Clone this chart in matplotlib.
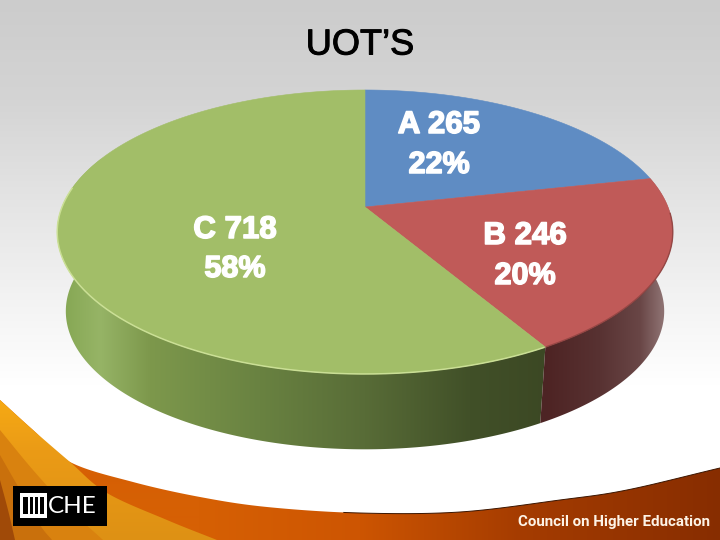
import numpy as np
import matplotlib
matplotlib.use("Agg")
import matplotlib.pyplot as plt
from matplotlib.patches import Polygon, Rectangle
import matplotlib.patheffects as pe

categories = ["A", "B", "C"]
values = [265, 246, 718]
title = "UOT\u2019S"
footer = "Council on Higher Education"

face_colors = ["#5f8cc3", "#c05a58", "#a2be68"]

fig = plt.figure(figsize=(7.2, 5.4), dpi=100)
ax = fig.add_axes([0, 0, 1, 1])
ax.set_xlim(0, 720)
ax.set_ylim(540, 0)
ax.axis("off")


def gradient(stops, horizontal, zorder, clip=None):
    pos = [s[0] for s in stops]
    cols = np.array([s[1] for s in stops], dtype=float) / 255
    n = 720 if horizontal else 540
    t = np.arange(n) + 0.5
    line = np.stack([np.interp(t, pos, cols[:, i]) for i in range(3)], axis=-1)
    img = line[None, :, :] if horizontal else line[:, None, :]
    im = ax.imshow(img, extent=(0, 720, 540, 0), aspect="auto", zorder=zorder,
                   interpolation="bilinear")
    if clip is not None:
        p = Polygon(clip, closed=True, transform=ax.transData, fc="none", ec="none")
        ax.add_patch(p)
        im.set_clip_path(p)
    ax.set_xlim(0, 720)
    ax.set_ylim(540, 0)
    return im


def smooth(points, n=24):
    """Catmull-Rom curve through the given outline points."""
    p = np.array(points, dtype=float)
    p = np.vstack([2 * p[0] - p[1], p, 2 * p[-1] - p[-2]])
    out = []
    for i in range(1, len(p) - 2):
        t = np.linspace(0, 1, n, endpoint=False)[:, None]
        out.append(0.5 * (2 * p[i] + (p[i + 1] - p[i - 1]) * t
                          + (2 * p[i - 1] - 5 * p[i] + 4 * p[i + 1] - p[i + 2]) * t ** 2
                          + (3 * p[i] - p[i - 1] - 3 * p[i + 1] + p[i + 2]) * t ** 3))
    out.append(p[-2][None, :])
    return np.vstack(out)


# background
gradient([(0, (204, 204, 204)), (100, (212, 212, 212)), (200, (228, 228, 228)),
          (300, (243, 243, 243)), (385, (255, 255, 255)), (540, (255, 255, 255))], False, 0)

# footer swoosh
edge = smooth([(0, 400), (33, 430), (70, 462), (133, 482), (200, 497), (267, 507), (360, 513),
               (460, 512), (560, 500), (627, 490), (720, 468)])
band = np.vstack([edge, [(720, 540), (0, 540)]])
line_part = edge[edge[:, 0] > 340]
ax.plot(line_part[:, 0], line_part[:, 1], color="#3a1500", lw=0.7, zorder=2.5)
gradient([(200, (214, 96, 4)), (360, (205, 85, 2)), (520, (165, 60, 0)), (720, (135, 45, 0))], True, 2, band)
split = smooth([(0, 400), (33, 430), (70, 462), (107, 493), (167, 520), (217, 540)])
gradient([(400, (246, 170, 20)), (450, (235, 155, 22)), (540, (222, 145, 20))], False, 3,
         np.vstack([split, [(0, 540)]]))
for pts, col, z in [([(0, 430), (33, 470), (67, 507), (103, 540)], "#d9820f", 3.1),
                    ([(0, 455), (20, 490), (40, 525), (52, 540)], "#c9700c", 3.2),
                    ([(0, 480), (8, 510), (15, 540)], "#a04a08", 3.3)]:
    ax.add_patch(Polygon(np.vstack([smooth(pts), [(0, 540)]]), fc=col, ec="none", zorder=z))

# pie geometry: perspective projection of a circle
CX, CY, AX, BY, K = 365, 207, 303, 137.6, 0.176
DEPTH, SHRINK = 80, 0.972


def project(theta_deg, scale=1.0, dy=0.0):
    th = np.radians(theta_deg)
    u, v = np.sin(th), np.cos(th)
    w = 1 + K * v
    return np.column_stack([CX + scale * AX * u / w, CY + dy - scale * BY * v / w])


total = sum(values)
bounds = np.concatenate([[0], np.cumsum(values) / total * 360])
(a_end, b_end, c_end) = bounds[1:]


def side(t0, t1):
    th = np.linspace(t0, t1, 200)
    return np.vstack([project(th), project(th[::-1], SHRINK, DEPTH)])


gradient([(0, (140, 172, 88)), (66, (135, 168, 85)), (100, (150, 180, 102)), (150, (125, 152, 76)),
          (260, (105, 130, 65)), (365, (88, 108, 55)), (470, (65, 80, 40)), (548, (60, 72, 36)),
          (720, (60, 72, 36))], True, 4, side(b_end, 292))
gradient([(0, (76, 36, 36)), (548, (78, 36, 36)), (600, (88, 50, 50)), (640, (105, 70, 70)),
          (662, (140, 112, 112)), (720, (150, 125, 125))], True, 4, side(a_end, b_end))

# top faces
for i, color in enumerate(face_colors):
    th = np.linspace(bounds[i], bounds[i + 1], 240)
    pts = np.vstack([[CX, CY], project(th)])
    ax.add_patch(Polygon(pts, closed=True, fc=color, ec=color, lw=0.4, zorder=5))

th_edge = np.linspace(b_end, 278, 200)
ax.plot(*project(th_edge).T, color="#cfe39a", lw=1.1, zorder=6, alpha=0.9)
th_edge = np.linspace(a_end + 15, b_end, 100)
ax.plot(*project(th_edge).T, color="#8a3f3d", lw=1.0, zorder=6, alpha=0.8)

# slice labels
anchors = {"A": (439, 125, 165), "B": (525, 236, 276), "C": (235, 230, 269)}
stroke = [pe.withStroke(linewidth=1.1, foreground="white")]
for cat, val in zip(categories, values):
    x, y1, y2 = anchors[cat]
    ax.text(x, y1, f"{cat} {val}", family="Liberation Sans", weight="bold", fontsize=22.5,
            color="white", ha="center", va="center", zorder=7, path_effects=stroke)
    ax.text(x, y2, f"{round(val / total * 100)}%",
            family="Liberation Sans", weight="bold", fontsize=22, color="white",
            ha="center", va="center", zorder=7, path_effects=stroke)

# title
ax.text(360, 45, title, family="Liberation Sans", fontsize=26, color="black",
        ha="center", va="center", zorder=7,
        path_effects=[pe.withStroke(linewidth=0.7, foreground="black")])

# logo
ax.add_patch(Rectangle((13, 486), 94, 40, fc="black", ec="none", zorder=8))
ax.add_patch(Rectangle((20, 493), 27, 25, fc="white", ec="none", zorder=9))
ax.add_patch(Rectangle((23, 497), 21, 17, fc="black", ec="none", zorder=10))
for lx in (28, 33, 38):
    ax.add_patch(Rectangle((lx, 497), 2.4, 17, fc="white", ec="none", zorder=11))
ax.text(72.5, 506.5, "CHE", family="Lato", fontsize=17.5, weight="normal",
        color="white", ha="center", va="center", zorder=9)

ax.text(710, 522, footer, family="Roboto", weight="bold",
        fontsize=10.9, color="#fdf3e6", ha="right", va="center", zorder=9)

fig.savefig("out.png", dpi=100)
